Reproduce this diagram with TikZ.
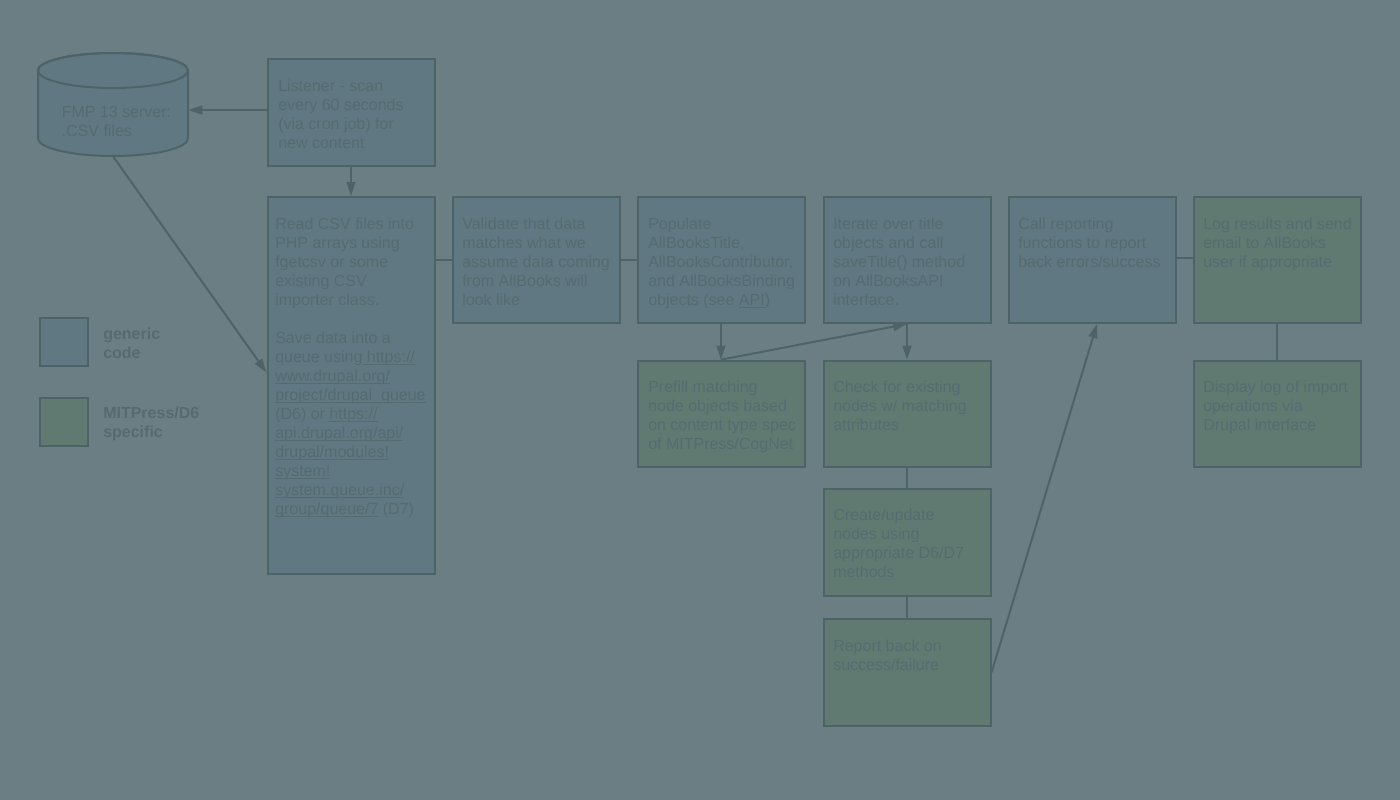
\documentclass[tikz,border=0pt]{standalone}
\usepackage{fontspec}
\setmainfont{Liberation Sans}
\usetikzlibrary{arrows.meta}
\definecolor{bgc}{HTML}{6B7E84}
\definecolor{bluec}{HTML}{5F7882}
\definecolor{greenc}{HTML}{607A72}
\definecolor{strokec}{HTML}{4E6367}
\definecolor{txtc}{HTML}{566B70}
\newcommand\mylink[1]{\setbox0\hbox{#1}\rlap{\rule[-1.9pt]{\wd0}{0.75pt}}\box0}
\begin{document}
\begin{tikzpicture}[x=0.75pt,y=-0.75pt,
  boxbase/.style={draw=strokec, line width=1.5pt, inner sep=0, minimum width=125.25pt},
  bbox/.style={boxbase, fill=bluec},
  gbox/.style={boxbase, fill=greenc},
  toprow/.style={minimum height=94.5pt},
  lowbox/.style={minimum height=80pt},
  legbox/.style={draw=strokec, line width=1.5pt, inner sep=0, minimum width=36pt, minimum height=36pt},
  txt/.style={anchor=north west, inner sep=0, align=left, text=txtc, font=\fontsize{12}{14.25}\selectfont},
  conn/.style={draw=strokec, line width=1.5pt},
  arr/.style={conn, -{Triangle[length=10.5pt,width=6.5pt]}}
]
\fill[bgc] (0,0) rectangle (1400,800);
\useasboundingbox (0,0) rectangle (1400,800);

% cylinder
\filldraw[fill=bluec, draw=strokec, line width=1.5pt] (38,70.5) -- (38,138.5)
  arc[start angle=180,end angle=360,x radius=56.25pt,y radius=13.125pt] -- (188,70.5)
  arc[start angle=0,end angle=180,x radius=56.25pt,y radius=13.125pt] -- cycle;
\draw[draw=strokec, line width=1.5pt] (113,70.5) ellipse [x radius=56.25pt, y radius=13.125pt];
\node[inner sep=0, minimum width=112.5pt, minimum height=77.25pt] (cyl) at (113,104.5) {};
\node[txt] (cylt) at (61.5,103.7) {\strut FMP 13 server:\\.CSV files};

% boxes
\node[bbox, minimum height=80.25pt] (listener) at (351,112) {};
\node[bbox, minimum height=282.75pt] (read) at (351,385.5) {};
\node[bbox, toprow] (validate) at (536,260) {};
\node[bbox, toprow] (populate) at (721,260) {};
\node[bbox, toprow] (iterate) at (907,260) {};
\node[bbox, toprow] (call) at (1092,260) {};
\node[gbox, toprow] (log) at (1277,260) {};
\node[gbox, lowbox] (prefill) at (721,414) {};
\node[gbox, lowbox] (check) at (907,414) {};
\node[gbox, lowbox] (create) at (907,542.5) {};
\node[gbox, lowbox] (report) at (907,672.5) {};
\node[gbox, lowbox] (display) at (1277,414) {};
\node[legbox, fill=bluec] (leg1) at (64,342) {};
\node[legbox, fill=greenc] (leg2) at (64,422) {};

% texts
\node[txt] (listenert) at (278,77.7) {\strut Listener - scan\\every 60 seconds\\(via cron job) for\\new content};
\node[txt] (readt) at (275,215.7) {\strut Read CSV files into\\PHP arrays using\\fgetcsv or some\\existing CSV\\importer class.\\[14.25pt]Save data into a\\queue using\mylink{\ https://}\\\mylink{www.drupal.org/}\\\mylink{project/drupal\_queue}\\(D6) or \mylink{https://}\\\mylink{api.drupal.org/api/}\\\mylink{drupal/modules!}\\\mylink{system!}\\\mylink{system.queue.inc/}\\\mylink{group/queue/7}\ (D7)};
\node[txt] (validatet) at (462,215.7) {\strut Validate that data\\matches what we\\assume data coming\\from AllBooks will\\look like};
\node[txt] (populatet) at (648,215.7) {\strut Populate\\AllBooksTitle,\\AllBooksContributor,\\and AllBooksBinding\\objects (see \mylink{API})};
\node[txt] (iteratet) at (833,215.7) {\strut Iterate over title\\objects and call\\saveTitle() method\\on AllBooksAPI\\interface.};
\node[txt] (callt) at (1018,215.7) {\strut Call reporting\\functions to report\\back errors/success};
\node[txt] (logt) at (1203,215.7) {\strut Log results and send\\email to AllBooks\\user if appropriate};
\node[txt] (prefillt) at (648,379.3) {\strut Prefill matching\\node objects based\\on content type spec\\of MITPress/CogNet};
\node[txt] (checkt) at (833,379.3) {\strut Check for existing\\nodes w/ matching\\attributes};
\node[txt] (displayt) at (1203,379.3) {\strut Display log of import\\operations via\\Drupal interface};
\node[txt] (createt) at (833,507) {\strut Create/update\\nodes using\\appropriate D6/D7\\methods};
\node[txt] (reportt) at (833,637.5) {\strut Report back on\\success/failure};
\node[txt, font=\fontsize{12}{14.25}\selectfont\bfseries] (leg1t) at (103,325.7) {\strut generic\\code};
\node[txt, font=\fontsize{12}{14.25}\selectfont\bfseries] (leg2t) at (103,404.7) {\strut MITPress/D6\\specific};

% connectors
\draw[arr] ([yshift=1.5pt]listener.west) -- ([yshift=1.5pt]cyl.east |- listener.west);
\draw[arr] (listener.south) -- (read.north);
\draw[arr] (cyl.south) -- ([yshift=9.75pt]read.west);
\draw[conn] (validate.west -| read.east) -- (validate.west);
\draw[conn] (validate.east) -- (populate.west);
\draw[conn] ([yshift=1.5pt]call.east) -- ([yshift=1.5pt]log.west);
\draw[arr] (populate.south) -- (prefill.north);
\draw[arr] (prefill.north) -- (iterate.south);
\draw[arr] (iterate.south) -- (check.north);
\draw[conn] (check.south) -- (create.north);
\draw[conn] (create.south) -- (report.north);
\draw[arr] (report.east) -- ([xshift=3.75pt]call.south);
\draw[conn] (log.south) -- (display.north);
\end{tikzpicture}
\end{document}
